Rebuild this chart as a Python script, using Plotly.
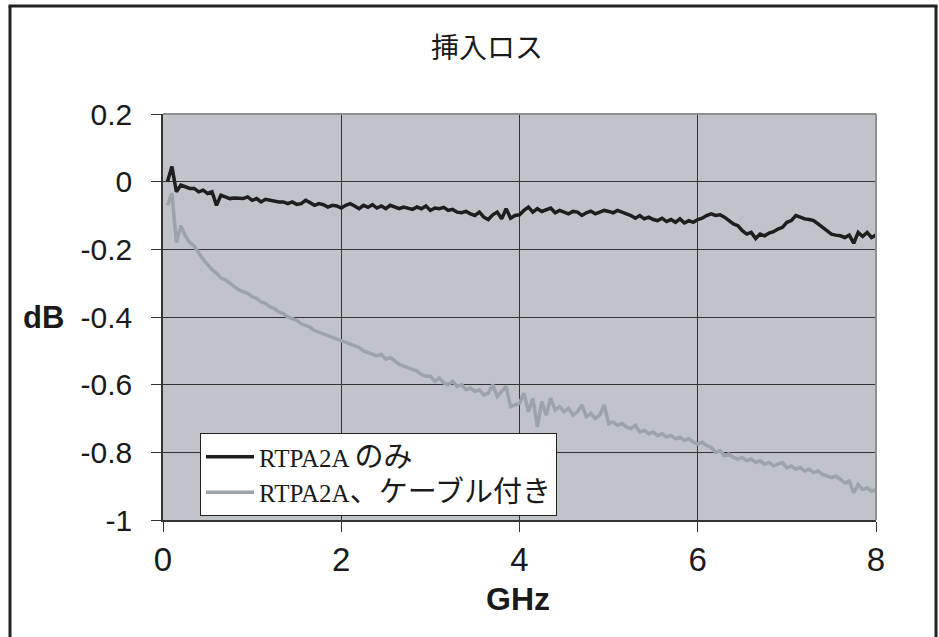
import plotly.graph_objects as go

# frequency grid (GHz), measurement sweep points
freq_ghz = [round(0.05 * i, 2) for i in range(1, 161)]

# RTPA2A only (dB)
rtpa_only = [
    0.00, 0.045, -0.03, -0.01, -0.015, -0.02, -0.02, -0.03, -0.025, -0.035,
    -0.03, -0.07, -0.04, -0.045, -0.05, -0.048, -0.05, -0.05, -0.045, -0.055,
    -0.05, -0.06, -0.052, -0.055, -0.058, -0.06, -0.06, -0.065, -0.06, -0.067,
    -0.065, -0.055, -0.062, -0.07, -0.065, -0.068, -0.075, -0.07, -0.072, -0.078,
    -0.07, -0.065, -0.072, -0.08, -0.07, -0.076, -0.068, -0.078, -0.072, -0.08,
    -0.07, -0.074, -0.08, -0.075, -0.078, -0.082, -0.075, -0.08, -0.072, -0.085,
    -0.078, -0.08, -0.076, -0.085, -0.082, -0.09, -0.092, -0.088, -0.095, -0.1,
    -0.09, -0.105, -0.112, -0.098, -0.09, -0.11, -0.08, -0.108, -0.1, -0.098,
    -0.085, -0.075, -0.09, -0.08, -0.088, -0.083, -0.078, -0.092, -0.085, -0.09,
    -0.095, -0.088, -0.09, -0.1, -0.092, -0.087, -0.095, -0.09, -0.085, -0.088,
    -0.092, -0.085, -0.09, -0.095, -0.1, -0.108, -0.1, -0.11, -0.105, -0.112,
    -0.115, -0.108, -0.118, -0.112, -0.12, -0.11, -0.122, -0.115, -0.12, -0.112,
    -0.108, -0.1, -0.095, -0.1, -0.098, -0.105, -0.115, -0.125, -0.13, -0.145,
    -0.155, -0.15, -0.168, -0.155, -0.16, -0.152, -0.148, -0.14, -0.135, -0.12,
    -0.115, -0.1, -0.105, -0.11, -0.112, -0.115, -0.125, -0.135, -0.145, -0.155,
    -0.158, -0.16, -0.165, -0.158, -0.182, -0.15, -0.162, -0.15, -0.165, -0.158,
]

# RTPA2A with cable (dB)
rtpa_cable = [
    -0.07, -0.035, -0.18, -0.13, -0.16, -0.18, -0.19, -0.21, -0.23, -0.245,
    -0.26, -0.27, -0.285, -0.29, -0.3, -0.31, -0.32, -0.325, -0.33, -0.34,
    -0.345, -0.355, -0.36, -0.37, -0.375, -0.385, -0.39, -0.4, -0.405, -0.41,
    -0.42, -0.425, -0.43, -0.44, -0.445, -0.45, -0.455, -0.46, -0.465, -0.47,
    -0.475, -0.48, -0.485, -0.49, -0.5, -0.505, -0.51, -0.515, -0.51, -0.525,
    -0.52, -0.53, -0.54, -0.545, -0.55, -0.555, -0.56, -0.57, -0.575, -0.575,
    -0.59, -0.58, -0.595, -0.6, -0.59, -0.605, -0.6, -0.615, -0.61, -0.62,
    -0.615, -0.63, -0.625, -0.6, -0.635, -0.62, -0.605, -0.665, -0.66, -0.655,
    -0.625, -0.68, -0.64, -0.725, -0.65, -0.69, -0.64, -0.675, -0.665, -0.68,
    -0.67, -0.69, -0.68, -0.66, -0.695, -0.685, -0.7, -0.69, -0.66, -0.715,
    -0.71, -0.72, -0.715, -0.725, -0.73, -0.72, -0.74, -0.735, -0.745, -0.74,
    -0.75, -0.745, -0.755, -0.75, -0.76, -0.755, -0.765, -0.76, -0.77, -0.775,
    -0.77, -0.78, -0.785, -0.8, -0.795, -0.81, -0.805, -0.815, -0.82, -0.815,
    -0.825, -0.82, -0.83, -0.825, -0.835, -0.83, -0.84, -0.835, -0.83, -0.845,
    -0.84, -0.85, -0.845, -0.855, -0.85, -0.86, -0.855, -0.865, -0.87, -0.875,
    -0.87, -0.88, -0.89, -0.885, -0.92, -0.895, -0.91, -0.905, -0.915, -0.91,
]

series_names = [
    'RTPA2A <span style="font-size:29px">のみ</span>',
    'RTPA2A<span style="font-size:29px">、ケーブル付き</span>',
]
x_ticks = [0, 2, 4, 6, 8]
y_ticks = [0.2, 0, -0.2, -0.4, -0.6, -0.8, -1]
y_tick_text = ["0.2", "0", "-0.2", "-0.4", "-0.6", "-0.8", "-1"]

fig = go.Figure()
fig.add_trace(go.Scatter(x=freq_ghz, y=rtpa_only, mode="lines", name=series_names[0],
                         line=dict(color="#1e1e1e", width=3.5)))
fig.add_trace(go.Scatter(x=freq_ghz, y=rtpa_cable, mode="lines", name=series_names[1],
                         line=dict(color="#9ea3a9", width=3.5)))

W, H = 939, 637
L, R, T, B = 163, 939 - 876, 114, 637 - 520
pw, ph = W - L - R, H - T - B

def px_x(p):
    return (p - L) / pw

def px_y(p):
    return (H - B - p) / ph

frame = dict(color="#222", width=3)

fig.update_layout(
    width=W, height=H,
    margin=dict(l=L, r=R, t=T, b=B, pad=0),
    paper_bgcolor="white",
    plot_bgcolor="#c0c3ca",
    showlegend=True,
    title=dict(text="挿入ロス", x=px_x(487), xref="paper", xanchor="center",
               y=1 - 48 / H, yref="container", yanchor="middle",
               font=dict(family="Noto Sans CJK JP", size=28, color="#1a1a1a")),
    legend=dict(x=px_x(200), y=px_y(433), xanchor="left", yanchor="top",
                bgcolor="white", bordercolor="#222", borderwidth=1,
                font=dict(family="Liberation Serif, Noto Sans CJK JP", size=25, color="#1a1a1a"),
                tracegroupgap=0, itemwidth=48),
    xaxis=dict(range=[0, 8], tickvals=x_ticks, ticktext=[str(v) for v in x_ticks],
               showgrid=True, gridcolor="#333333", gridwidth=1,
               showline=True, linecolor="#333333", linewidth=1.5,
               ticks="outside", ticklen=10, tickcolor="#333333",
               tickfont=dict(family="Liberation Sans, Arial", size=33, color="#1a1a1a"),
               zeroline=False, fixedrange=True),
    yaxis=dict(range=[-1, 0.2], tickvals=y_ticks, ticktext=y_tick_text,
               showgrid=True, gridcolor="#333333", gridwidth=1,
               showline=True, linecolor="#333333", linewidth=1.5,
               ticks="outside", ticklen=10, tickcolor="#333333",
               ticklabelstandoff=13,
               tickfont=dict(family="Liberation Sans, Arial", size=30, color="#1a1a1a"),
               zeroline=False, fixedrange=True),
    shapes=[
        dict(type="line", xref="paper", yref="paper",
             x0=px_x(8.5), x1=px_x(937.5), y0=px_y(6), y1=px_y(6), line=frame, layer="above"),
        dict(type="line", xref="paper", yref="paper",
             x0=px_x(10), x1=px_x(10), y0=px_y(6), y1=px_y(660), line=frame, layer="above"),
        dict(type="line", xref="paper", yref="paper",
             x0=px_x(936), x1=px_x(936), y0=px_y(6), y1=px_y(660), line=frame, layer="above"),
        dict(type="line", xref="paper", yref="paper", x0=0, x1=1, y0=1, y1=1,
             line=dict(color="#8c9196", width=2), layer="above"),
        dict(type="line", xref="paper", yref="paper", x0=1, x1=1, y0=0, y1=1,
             line=dict(color="#8c9196", width=2), layer="above"),
    ],
    annotations=[
        dict(text="<b>dB</b>", xref="paper", yref="y", x=px_x(66), y=-0.4,
             xanchor="right", yanchor="middle", showarrow=False,
             font=dict(family="Liberation Sans, Arial", size=31, color="#1a1a1a")),
        dict(text="<b>GHz</b>", xref="paper", yref="paper", x=px_x(518), y=px_y(599),
             xanchor="center", yanchor="middle", showarrow=False,
             font=dict(family="Liberation Sans, Arial", size=32, color="#1a1a1a")),
    ],
)

# remove the default page margin so the figure sits at the window's top-left corner
fig.write_html("out.html", config={"displayModeBar": False},
               post_script="document.body.style.margin='0';document.body.style.overflow='hidden';")
